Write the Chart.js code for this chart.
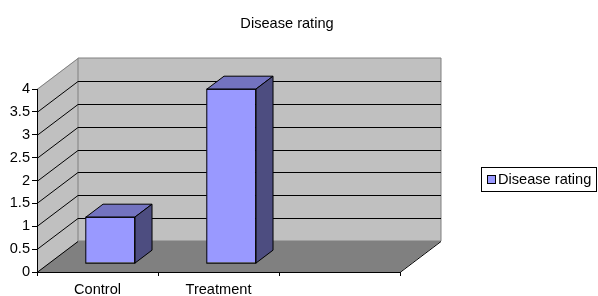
<!DOCTYPE html>
<html>
<head>
<meta charset="utf-8">
<script src="https://cdn.jsdelivr.net/npm/chart.js@4"></script>
<style>
  body { margin: 0; background: #fff; }
</style>
</head>
<body>
<canvas id="myChart" width="598" height="296"></canvas>
<script>
// Chart data
const categories = ["Control", "Treatment", ""];
const ratings = [1.0, 3.8, null];
const seriesName = "Disease rating";
const chartTitle = "Disease rating";
const yMin = 0;
const yMax = 4;
const yStep = 0.5;

// 3D look: offset of the back wall from the front plane
const depthX = 41;
const depthY = -31;
const barFront = 0.3; // bars start this far into the box
const barBack = 0.72;

const fontFamily = "'Liberation Sans', Arial, sans-serif";
const fontSize = 14.6;

function poly(ctx, pts, fill, stroke) {
  ctx.beginPath();
  ctx.moveTo(pts[0][0], pts[0][1]);
  for (let i = 1; i < pts.length; i++) ctx.lineTo(pts[i][0], pts[i][1]);
  ctx.closePath();
  if (fill) { ctx.fillStyle = fill; ctx.fill(); }
  if (stroke) { ctx.strokeStyle = stroke; ctx.lineWidth = 1; ctx.stroke(); }
}

function line(ctx, x1, y1, x2, y2, color) {
  ctx.beginPath();
  ctx.moveTo(x1, y1);
  ctx.lineTo(x2, y2);
  ctx.strokeStyle = color;
  ctx.lineWidth = 1;
  ctx.stroke();
}

// walls, floor, gridlines, title and legend
const wallsPlugin = {
  id: "walls",
  beforeDraw(chart) {
    const { ctx, chartArea: a, scales } = chart;
    const y = scales.y;
    const L = a.left, R = a.right, T = a.top, B = a.bottom;
    ctx.save();

    // left wall
    poly(ctx, [[L, B], [L, T], [L + depthX, T + depthY], [L + depthX, B + depthY]], "#c0c0c0");
    // back wall
    poly(ctx, [[L + depthX, T + depthY], [R + depthX, T + depthY], [R + depthX, B + depthY], [L + depthX, B + depthY]], "#c0c0c0", "#808080");
    // floor
    poly(ctx, [[L, B], [R, B], [R + depthX, B + depthY], [L + depthX, B + depthY]], "#808080");

    // gridlines on the left and back walls
    y.ticks.forEach((t) => {
      const py = Math.round(y.getPixelForValue(t.value)) + 0.5;
      const col = t.value === yMax ? "#808080" : "#000";
      line(ctx, L, py, L + depthX, py + depthY, col);
      if (t.value > yMin && t.value < yMax) {
        line(ctx, L + depthX, py + depthY, R + depthX, py + depthY, "#000");
      }
    });
    // right edge of the floor
    line(ctx, R, B + 0.5, R + depthX, B + depthY + 0.5, "#000");

    // title
    ctx.fillStyle = "#000";
    ctx.font = fontSize + "px " + fontFamily;
    ctx.textAlign = "center";
    ctx.textBaseline = "alphabetic";
    ctx.fillText(chartTitle, 287, 28);

    // legend
    ctx.fillStyle = "#fff";
    ctx.fillRect(481, 167, 115, 24);
    ctx.strokeStyle = "#000";
    ctx.strokeRect(481.5, 167.5, 115, 24);
    ctx.fillStyle = "#9999ff";
    ctx.fillRect(487.5, 175.5, 8, 8);
    ctx.strokeRect(487.5, 175.5, 8, 8);
    ctx.fillStyle = "#000";
    ctx.textAlign = "left";
    ctx.textBaseline = "middle";
    ctx.fillText(seriesName, 498, 180);

    ctx.restore();
  },
  beforeDatasetsDraw(chart) {
    chart.ctx.save();
    chart.ctx.translate(depthX * barFront, depthY * barFront);
  },
  afterDatasetsDraw(chart) {
    const ctx = chart.ctx;
    const meta = chart.getDatasetMeta(0);
    const ddx = depthX * (barBack - barFront);
    const ddy = depthY * (barBack - barFront);
    meta.data.forEach((bar, i) => {
      if (ratings[i] == null) return;
      const { x, y, base, width } = bar.getProps(["x", "y", "base", "width"], true);
      const left = Math.round(x - width / 2) + 0.5;
      const right = Math.round(x + width / 2) + 0.5;
      const top = Math.round(y) + 0.5;
      const bottom = Math.round(base) + 0.5;
      // top face
      poly(ctx, [[left, top], [right, top], [right + ddx, top + ddy], [left + ddx, top + ddy]], "#7373c0", "#000");
      // side face
      poly(ctx, [[right, top], [right + ddx, top + ddy], [right + ddx, bottom + ddy], [right, bottom]], "#4d4d80", "#000");
      // front outline
      ctx.strokeStyle = "#000";
      ctx.strokeRect(left, top, right - left, bottom - top);
    });
    ctx.restore();
  },
};

const ctx = document.getElementById("myChart");

new Chart(ctx, {
  type: "bar",
  data: {
    labels: categories,
    datasets: [
      {
        label: seriesName,
        data: ratings,
        backgroundColor: "#9999ff",
        borderWidth: 0,
        categoryPercentage: 1,
        barPercentage: 0.4,
      },
    ],
  },
  options: {
    responsive: false,
    animation: false,
    layout: { padding: { top: 89, right: 198, left: 0, bottom: 0 } },
    plugins: {
      legend: { display: false },
      title: { display: false },
      tooltip: { enabled: false },
    },
    scales: {
      x: {
        afterFit(scale) { scale.height = 24; },
        grid: { drawOnChartArea: false, color: "#000", tickLength: 4, offset: true },
        border: { color: "#000" },
        ticks: { color: "#000", font: { size: fontSize, family: fontFamily }, padding: 5, maxRotation: 0 },
      },
      y: {
        min: yMin,
        max: yMax,
        afterFit(scale) { scale.width = 37; },
        grid: { drawOnChartArea: false, color: "#000", tickLength: 5 },
        border: { color: "#000" },
        ticks: {
          stepSize: yStep,
          color: "#000",
          font: { size: fontSize, family: fontFamily },
          padding: 2,
          callback: (value) => String(value),
        },
      },
    },
  },
  plugins: [wallsPlugin],
});
</script>
</body>
</html>
